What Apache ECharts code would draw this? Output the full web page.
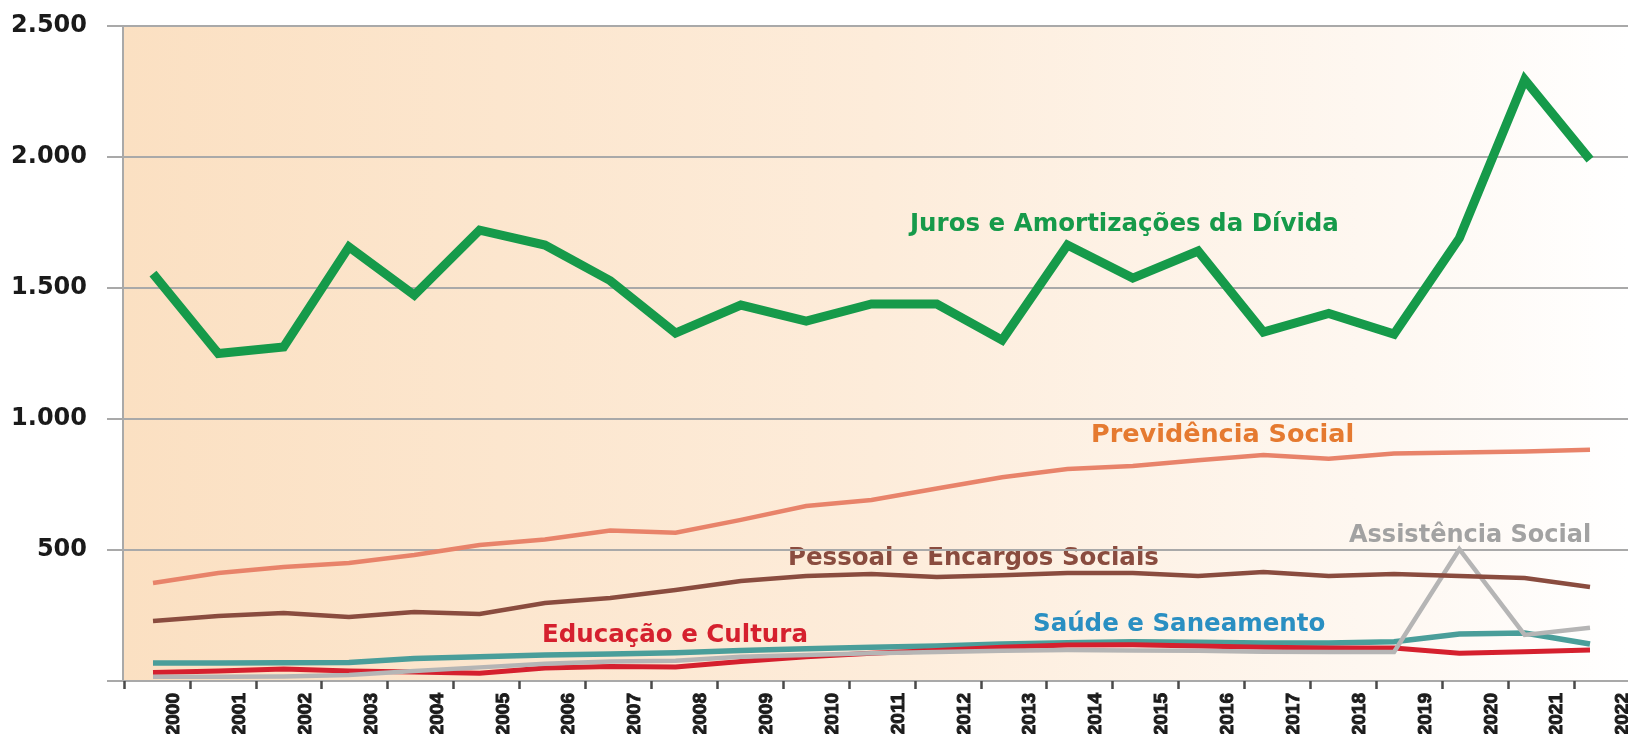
<!DOCTYPE html>
<html>
<head>
<meta charset="utf-8">
<script src="https://cdn.jsdelivr.net/npm/echarts@6/dist/echarts.min.js"></script>
<style>
  html, body { margin: 0; padding: 0; background: #fff; }
  #chart { width: 1628px; height: 734px; }
</style>
</head>
<body>
<div id="chart"></div>
<script>
const YEARS = ["2000", "2001", "2002", "2003", "2004", "2005", "2006", "2007", "2008", "2009", "2010",
  "2011", "2012", "2013", "2014", "2015", "2016", "2017", "2018", "2019", "2020", "2021", "2022"];

const Y_TICKS = [0, 500, 1000, 1500, 2000, 2500];

const JUROS = [1555, 1250, 1275, 1657, 1473, 1721, 1664, 1528, 1328, 1435, 1374, 1439,
  1439, 1301, 1664, 1538, 1641, 1332, 1403, 1324, 1690, 2295, 1990];
const PREVIDENCIA = [374, 412, 435, 450, 481, 519, 540, 574, 566, 615, 668, 691,
  735, 778, 809, 821, 843, 863, 848, 868, 872, 876, 883];
const PESSOAL = [229, 248, 260, 244, 263, 256, 298, 317, 347, 382, 401, 408,
  397, 404, 412, 412, 401, 416, 401, 408, 401, 393, 359];
const SAUDE = [69, 69, 70, 71, 86, 93, 99, 103, 108, 116, 123, 129,
  134, 141, 146, 150, 148, 145, 145, 150, 179, 183, 141];
const EDUCACAO = [32, 38, 46, 38, 34, 30, 50, 55, 53, 74, 93, 106,
  116, 129, 137, 138, 134, 129, 126, 126, 106, 112, 118];
const ASSISTENCIA = [16, 16, 17, 23, 38, 52, 66, 74, 77, 93, 99, 106,
  111, 115, 118, 116, 115, 112, 111, 111, 503, 176, 203];

const GRID_LINE = "#a9a9a9";
const ANNOT_FONT = "bold 24.5px 'DejaVu Sans', sans-serif";

// rótulos dos eixos: "2.500" etc.
function fmtThousands(v) {
  if (v === 0) return "";
  if (v < 1000) return String(v);
  return Math.floor(v / 1000) + "." + String(v % 1000).padStart(3, "0");
}

const chart = echarts.init(document.getElementById("chart"), null, { renderer: "canvas" });

const gridBox = { top: 26, bottom: 53, containLabel: false, outerBoundsMode: "none" };

function line(name, data, color, width) {
  return {
    name,
    type: "line",
    xAxisIndex: 3,
    yAxisIndex: 3,
    data,
    symbol: "none",
    clip: false,
    lineStyle: { color, width, join: "miter" },
    emphasis: { disabled: true },
  };
}

chart.setOption({
  animation: false,
  grid: [
    {
      ...gridBox, left: 123, right: 0, show: true, borderWidth: 0,
      backgroundColor: new echarts.graphic.LinearGradient(0, 0, 1, 0, [
        { offset: 0, color: "#fbe0c2" },
        { offset: 0.5, color: "#fdecda" },
        { offset: 0.85, color: "#fef8f2" },
        { offset: 1, color: "#ffffff" },
      ]),
    },
    { ...gridBox, left: 174, right: 5 },   // rótulos dos anos
    { ...gridBox, left: 124, right: 54 },  // marcas do eixo x
    { ...gridBox, left: 153, right: 38 },  // séries
  ],
  xAxis: [
    {
      gridIndex: 0, type: "value", min: 0, max: 1,
      axisLine: { show: true, lineStyle: { color: GRID_LINE, width: 2 } },
      axisTick: { show: false }, axisLabel: { show: false }, splitLine: { show: false },
    },
    {
      gridIndex: 1, type: "category", data: YEARS, boundaryGap: false,
      axisLine: { show: false }, axisTick: { show: false }, splitLine: { show: false },
      axisLabel: {
        rotate: 90, interval: 0, margin: 12,
        color: "#1c1c1c", fontWeight: "bold", fontSize: 19,
        textBorderColor: "#1c1c1c", textBorderWidth: 1,
        fontFamily: "'Liberation Sans', Arial, sans-serif",
      },
    },
    {
      gridIndex: 2, type: "category", data: YEARS, boundaryGap: false,
      axisLine: { show: false }, axisLabel: { show: false }, splitLine: { show: false },
      axisTick: { show: true, interval: 0, length: 8, lineStyle: { color: "#4a4a4a", width: 2.5 } },
    },
    { gridIndex: 3, type: "category", data: YEARS, boundaryGap: false, show: false },
  ],
  yAxis: [
    {
      gridIndex: 0, type: "value", min: Y_TICKS[0], max: Y_TICKS[Y_TICKS.length - 1], interval: 500,
      axisLine: { show: true, lineStyle: { color: GRID_LINE, width: 2 } },
      axisTick: { show: true, length: 16, lineStyle: { color: GRID_LINE, width: 2 } },
      splitLine: { show: true, lineStyle: { color: GRID_LINE, width: 2 } },
      axisLabel: {
        margin: 36, formatter: fmtThousands,
        color: "#1a1a1a", fontWeight: "bold", fontSize: 24,
        fontFamily: "'DejaVu Sans', sans-serif",
      },
    },
    { gridIndex: 1, type: "value", show: false },
    { gridIndex: 2, type: "value", show: false },
    { gridIndex: 3, type: "value", min: 0, max: 2500, show: false },
  ],
  series: [
    line("Saúde e Saneamento", SAUDE, "#4a9e9a", 5.5),
    line("Educação e Cultura", EDUCACAO, "#d5202e", 5),
    line("Assistência Social", ASSISTENCIA, "#b5b5b5", 4.5),
    line("Pessoal e Encargos Sociais", PESSOAL, "#8a4c3f", 4.5),
    line("Previdência Social", PREVIDENCIA, "#e8836a", 4.5),
    line("Juros e Amortizações da Dívida", JUROS, "#169a4a", 9),
  ],
  graphic: [
    { type: "text", x: 910, y: 225, style: { text: "Juros e Amortizações da Dívida", fill: "#169a4a", font: ANNOT_FONT, verticalAlign: "middle" } },
    { type: "text", x: 1091, y: 435, style: { text: "Previdência Social", fill: "#e57a30", font: "bold 25.5px 'DejaVu Sans', sans-serif", verticalAlign: "middle" } },
    { type: "text", x: 788, y: 559, style: { text: "Pessoal e Encargos Sociais", fill: "#8a4c3f", font: ANNOT_FONT, verticalAlign: "middle" } },
    { type: "text", x: 1349, y: 536, style: { text: "Assistência Social", fill: "#a2a2a2", font: "bold 24px 'DejaVu Sans', sans-serif", verticalAlign: "middle" } },
    { type: "text", x: 1033, y: 625, style: { text: "Saúde e Saneamento", fill: "#2a8fc2", font: ANNOT_FONT, verticalAlign: "middle" } },
    { type: "text", x: 542, y: 636, style: { text: "Educação e Cultura", fill: "#d5202e", font: ANNOT_FONT, verticalAlign: "middle" } },
  ],
});
</script>
</body>
</html>
